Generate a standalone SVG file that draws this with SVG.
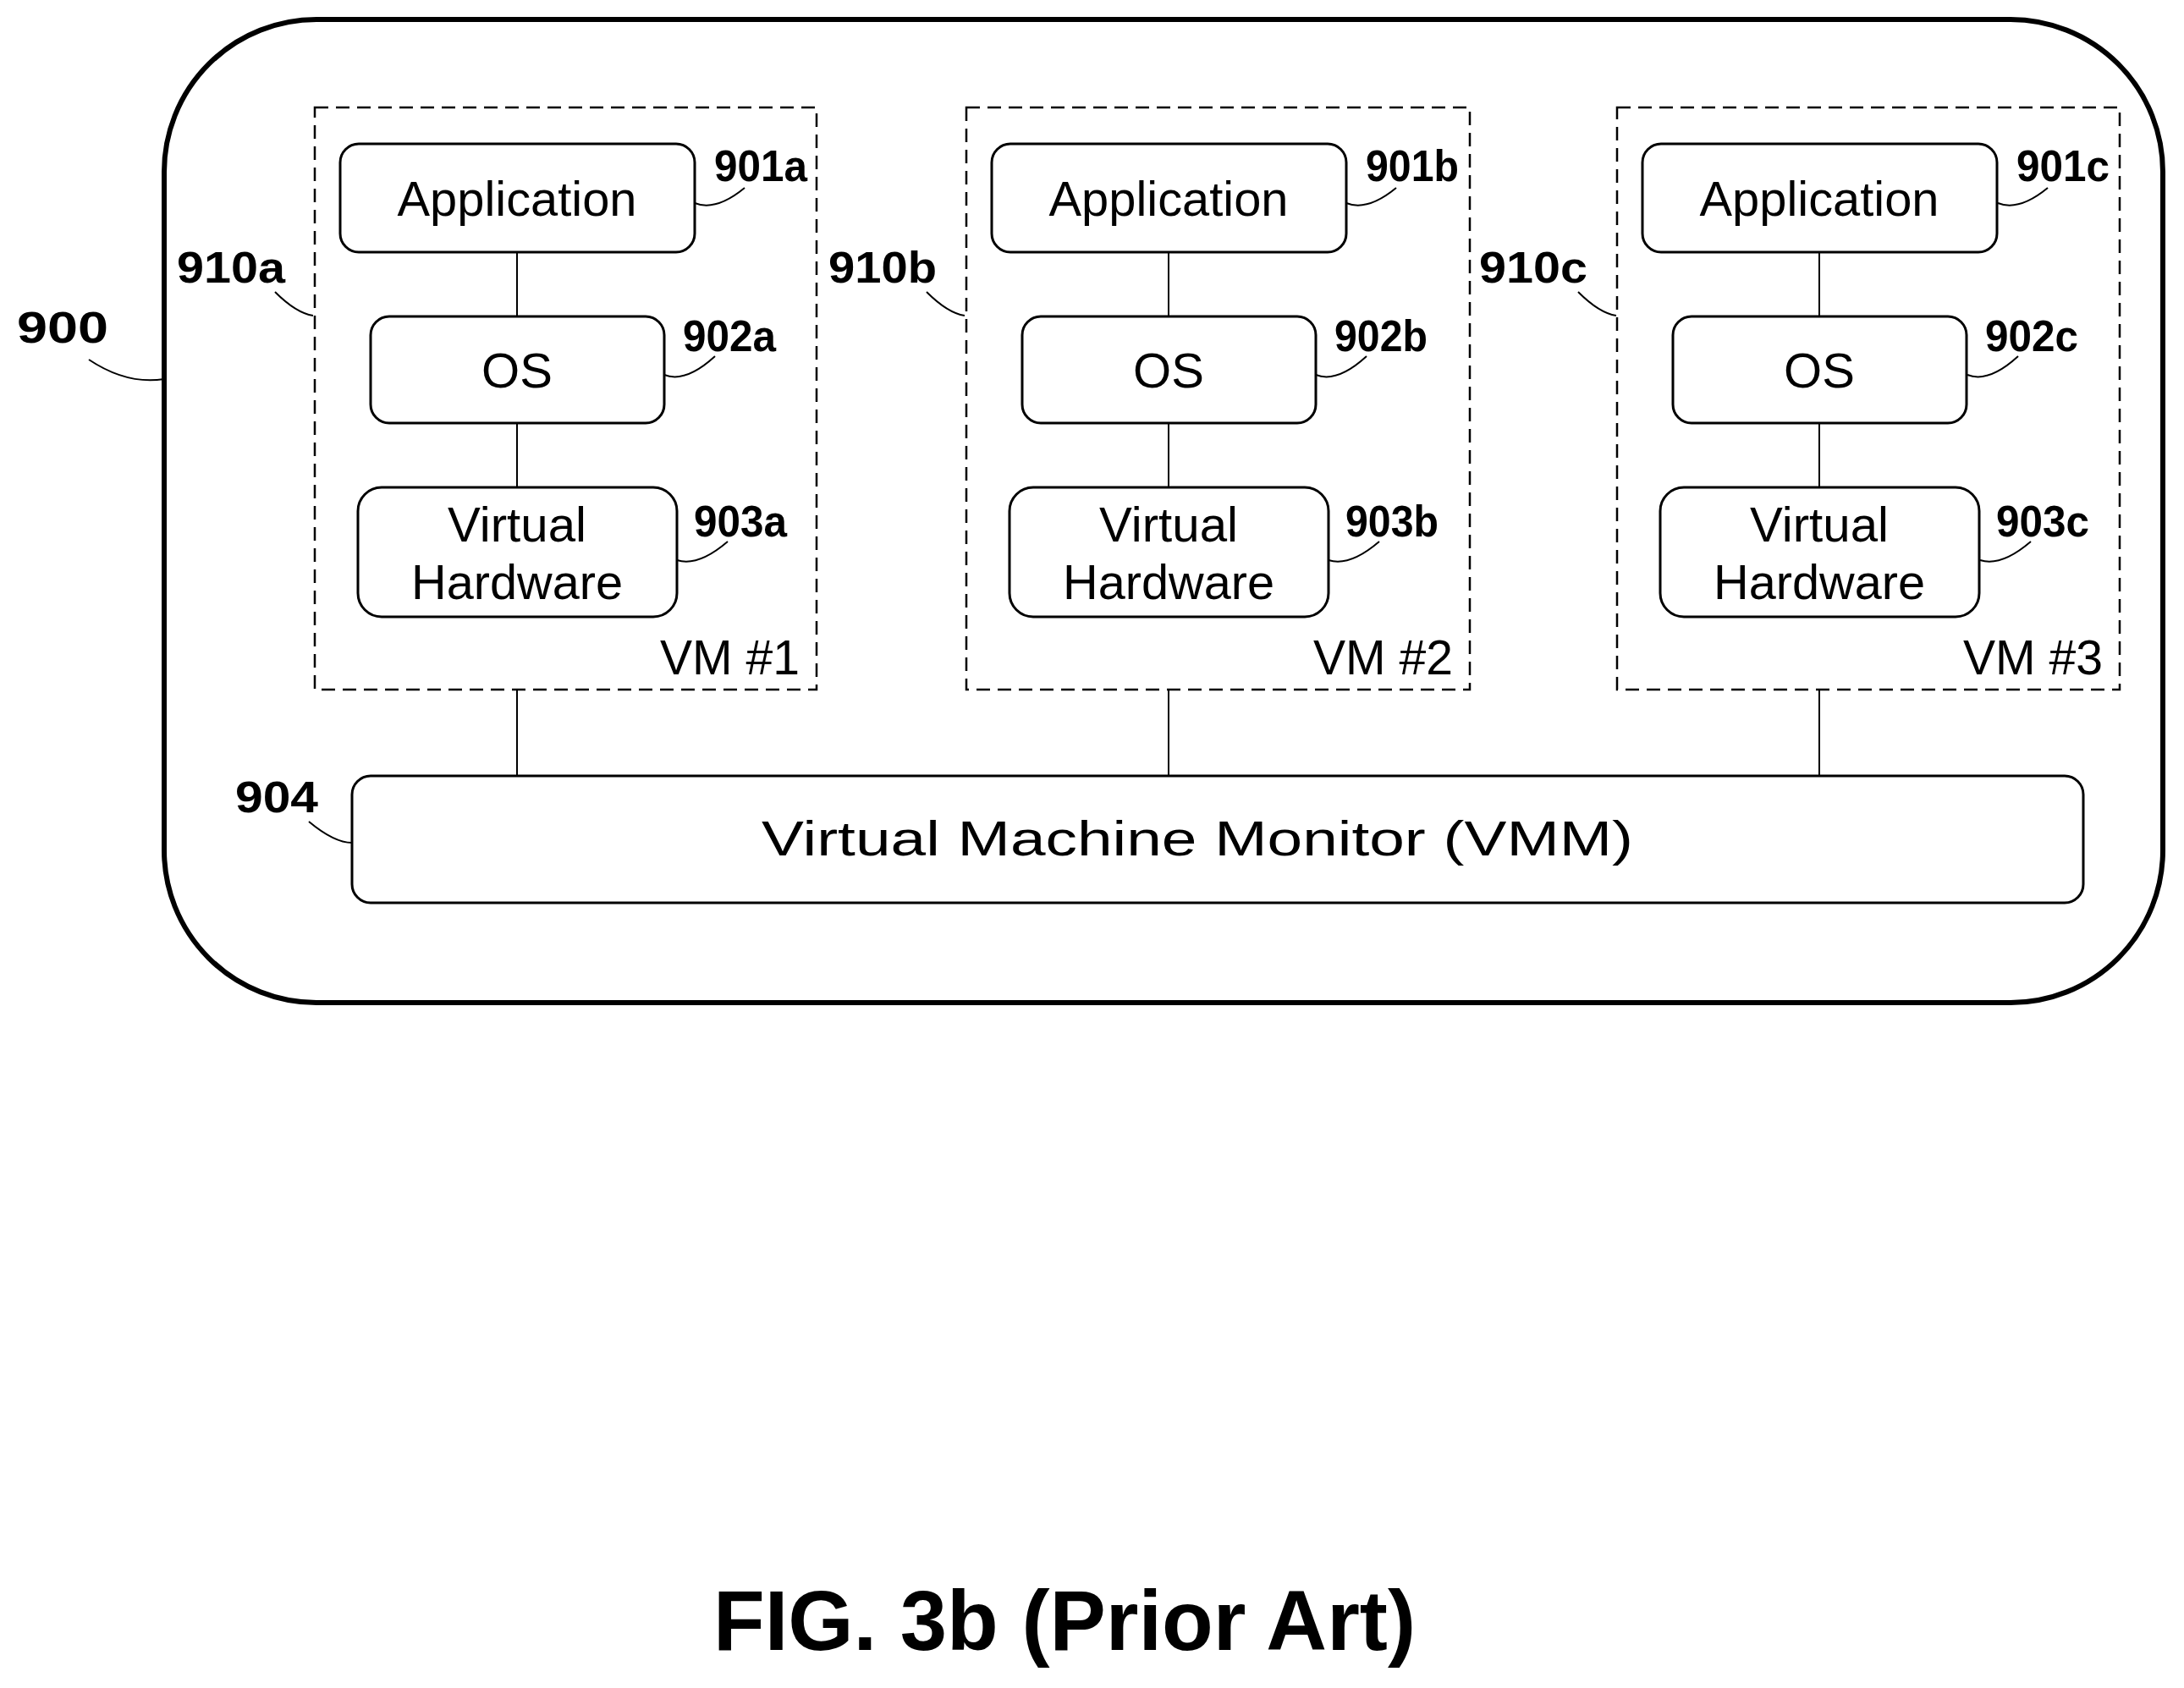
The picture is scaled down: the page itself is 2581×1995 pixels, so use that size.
<svg xmlns="http://www.w3.org/2000/svg" width="2581" height="1995" viewBox="0 0 2581 1995">
<style>
.box{fill:#fff;stroke:#000;stroke-width:3}
.vm{fill:none;stroke:#000;stroke-width:2.5;stroke-dasharray:16 9}
.ln{fill:none;stroke:#000;stroke-width:2}
.t{font-family:"Liberation Sans",Arial,sans-serif;font-size:58px;text-anchor:middle}
.lb{font-family:"Liberation Sans",Arial,sans-serif;font-size:52px;font-weight:bold}
</style>
<rect width="2581" height="1995" fill="#fff"/>
<g id="n900"><rect x="194" y="23" width="2362" height="1162" rx="180" fill="#fff" stroke="#000" stroke-width="6"/>
<text class="lb" x="20" y="405" font-size="62" textLength="108" lengthAdjust="spacingAndGlyphs">900</text></g>
<g id="connectors">
<path class="ln" d="M611,298V374M611,500V576M611,815V917M1381,298V374M1381,500V576M1381,815V917M2150,298V374M2150,500V576M2150,815V917"/>
<path class="ln" d="M105,425q45,30 89,23"/>
<path class="ln" d="M325,345q25,25 45,28M1095,345q25,25 45,28M1865,345q25,25 45,28"/>
<path class="ln" d="M365,971q30,25 51,25"/>
<path class="ln" d="M821,240q25,10 59,-18M1591,240q25,10 59,-18M2361,240q25,10 59,-18"/>
<path class="ln" d="M785,443q25,10 60,-22M1555,443q25,10 60,-22M2325,443q25,10 60,-22"/>
<path class="ln" d="M800,662q25,8 60,-22M1570,662q25,8 60,-22M2340,662q25,8 60,-22"/>
</g>
<g id="vm1"><rect class="vm" x="372" y="127" width="593" height="688"/><text class="t" x="945" y="797" text-anchor="end" style="text-anchor:end" textLength="165" lengthAdjust="spacingAndGlyphs">VM #1</text>
<text class="lb" x="209" y="334" textLength="128" lengthAdjust="spacingAndGlyphs">910a</text></g>
<g id="vm2"><rect class="vm" x="1142" y="127" width="595" height="688"/><text class="t" x="1717" y="797" style="text-anchor:end" textLength="165" lengthAdjust="spacingAndGlyphs">VM #2</text>
<text class="lb" x="979" y="334" textLength="128" lengthAdjust="spacingAndGlyphs">910b</text></g>
<g id="vm3"><rect class="vm" x="1911" y="127" width="594" height="688"/><text class="t" x="2485" y="797" style="text-anchor:end" textLength="165" lengthAdjust="spacingAndGlyphs">VM #3</text>
<text class="lb" x="1748" y="334" textLength="128" lengthAdjust="spacingAndGlyphs">910c</text></g>
<g id="app_a"><rect class="box" x="402" y="170" width="419" height="128" rx="22"/><text class="t" x="611" y="255" textLength="283" lengthAdjust="spacingAndGlyphs">Application</text><text class="lb" x="844" y="214" textLength="110" lengthAdjust="spacingAndGlyphs">901a</text></g>
<g id="app_b"><rect class="box" x="1172" y="170" width="419" height="128" rx="22"/><text class="t" x="1381" y="255" textLength="283" lengthAdjust="spacingAndGlyphs">Application</text><text class="lb" x="1614" y="214" textLength="110" lengthAdjust="spacingAndGlyphs">901b</text></g>
<g id="app_c"><rect class="box" x="1941" y="170" width="419" height="128" rx="22"/><text class="t" x="2150" y="255" textLength="283" lengthAdjust="spacingAndGlyphs">Application</text><text class="lb" x="2383" y="214" textLength="110" lengthAdjust="spacingAndGlyphs">901c</text></g>
<g id="os_a"><rect class="box" x="438" y="374" width="347" height="126" rx="22"/><text class="t" x="611" y="458">OS</text><text class="lb" x="807" y="415" textLength="110" lengthAdjust="spacingAndGlyphs">902a</text></g>
<g id="os_b"><rect class="box" x="1208" y="374" width="347" height="126" rx="22"/><text class="t" x="1381" y="458">OS</text><text class="lb" x="1577" y="415" textLength="110" lengthAdjust="spacingAndGlyphs">902b</text></g>
<g id="os_c"><rect class="box" x="1977" y="374" width="347" height="126" rx="22"/><text class="t" x="2150" y="458">OS</text><text class="lb" x="2346" y="415" textLength="110" lengthAdjust="spacingAndGlyphs">902c</text></g>
<g id="vh_a"><rect class="box" x="423" y="576" width="377" height="153" rx="28"/><text class="t" x="611" y="640" textLength="164" lengthAdjust="spacingAndGlyphs">Virtual</text><text class="t" x="611" y="708" textLength="250" lengthAdjust="spacingAndGlyphs">Hardware</text><text class="lb" x="820" y="634" textLength="110" lengthAdjust="spacingAndGlyphs">903a</text></g>
<g id="vh_b"><rect class="box" x="1193" y="576" width="377" height="153" rx="28"/><text class="t" x="1381" y="640" textLength="164" lengthAdjust="spacingAndGlyphs">Virtual</text><text class="t" x="1381" y="708" textLength="250" lengthAdjust="spacingAndGlyphs">Hardware</text><text class="lb" x="1590" y="634" textLength="110" lengthAdjust="spacingAndGlyphs">903b</text></g>
<g id="vh_c"><rect class="box" x="1962" y="576" width="377" height="153" rx="28"/><text class="t" x="2150" y="640" textLength="164" lengthAdjust="spacingAndGlyphs">Virtual</text><text class="t" x="2150" y="708" textLength="250" lengthAdjust="spacingAndGlyphs">Hardware</text><text class="lb" x="2359" y="634" textLength="110" lengthAdjust="spacingAndGlyphs">903c</text></g>
<g id="vmm"><rect class="box" x="416" y="917" width="2046" height="150" rx="22"/><text class="t" x="1415" y="1011" font-size="70" textLength="1030" lengthAdjust="spacingAndGlyphs">Virtual Machine Monitor (VMM)</text><text class="lb" x="278" y="960" textLength="98" lengthAdjust="spacingAndGlyphs">904</text></g>
<text x="843" y="1950" font-family="Liberation Sans,Arial,sans-serif" font-weight="bold" font-size="100" textLength="830" lengthAdjust="spacingAndGlyphs">FIG. 3b (Prior Art)</text>
</svg>
